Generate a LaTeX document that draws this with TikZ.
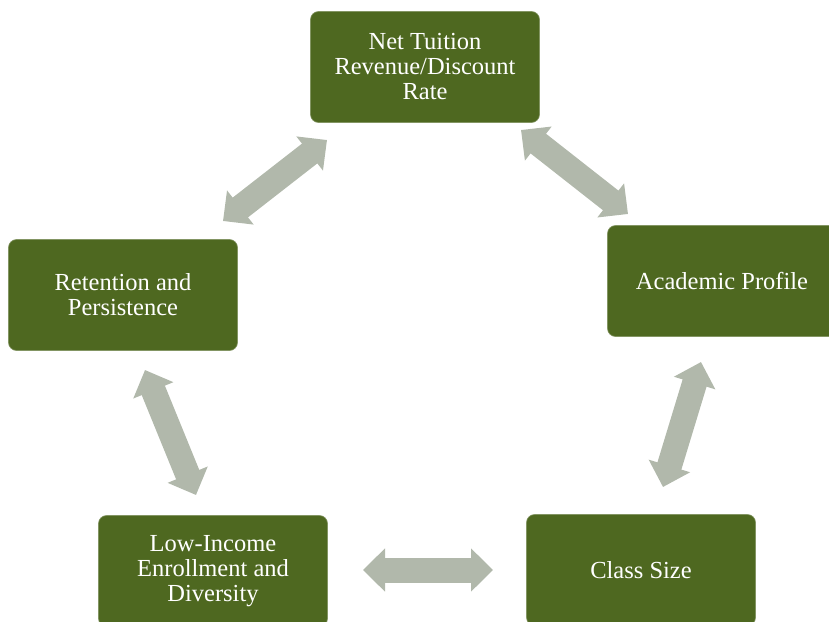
\documentclass[tikz,border=0pt]{standalone}
\usepackage{fontspec}
\setmainfont{Liberation Serif}
\usetikzlibrary{arrows.meta}
\definecolor{boxgreen}{RGB}{78,104,32}
\definecolor{arrowgray}{RGB}{177,184,171}
\begin{document}
\begin{tikzpicture}[x=1pt,y=-1pt,
  block/.style={draw=boxgreen!70!white, line width=0.6pt, fill=boxgreen, rounded corners=8pt,
    minimum width=229pt, minimum height=111pt, align=center, text=white,
    font=\fontsize{24.5}{25}\selectfont, inner sep=0pt},
  link/.style={draw=arrowgray, line width=25pt,
    {Triangle[width=42pt,length=22pt]}-{Triangle[width=42pt,length=22pt]}}]
\useasboundingbox (0,0) rectangle (829,621);
\clip (0,0) rectangle (829,621);

% the five factors
\node[block] (ntr) at (425,67) {Net Tuition\\Revenue/Discount\\Rate};
\node[block] (acad) at (722,281) {Academic Profile};
\node[block] (size) at (641,570) {Class Size};
\node[block] (low) at (213,571) {Low-Income\\Enrollment and\\Diversity};
\node[block] (ret) at (123,295) {Retention and\\Persistence};

% ends of the two-way arrows
\coordinate (a1) at (223,221);
\coordinate (b1) at (327,140);
\coordinate (a2) at (521,130);
\coordinate (b2) at (628,214);
\coordinate (a3) at (701,362);
\coordinate (b3) at (663,487);
\coordinate (a4) at (363,570);
\coordinate (b4) at (493,570);
\coordinate (a5) at (145,370);
\coordinate (b5) at (196,495);

\draw[link] (a1) -- (b1);
\draw[link] (a2) -- (b2);
\draw[link] (a3) -- (b3);
\draw[link] (a4) -- (b4);
\draw[link] (a5) -- (b5);
\end{tikzpicture}
\end{document}
